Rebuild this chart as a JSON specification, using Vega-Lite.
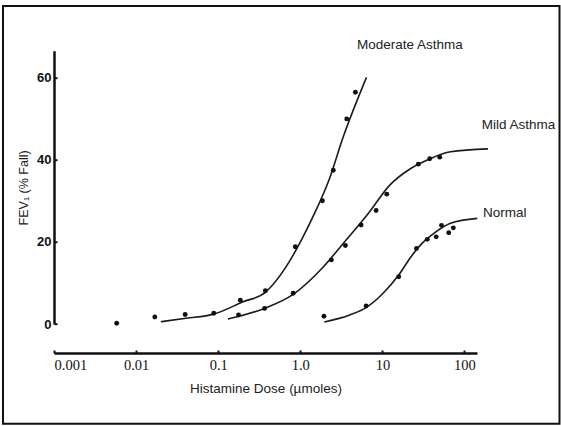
{
  "$schema": "https://vega.github.io/schema/vega-lite/v6.json",
  "width": 423,
  "height": 273.3,
  "autosize": {"type": "none"},
  "padding": {"left": 54, "top": 50.7, "right": 84, "bottom": 102},
  "background": "white",
  "datasets": {
    "points": [
      {"series": "Moderate Asthma", "dose": 0.0058, "fev": 0.2},
      {"series": "Moderate Asthma", "dose": 0.0169, "fev": 1.7},
      {"series": "Moderate Asthma", "dose": 0.0396, "fev": 2.3},
      {"series": "Moderate Asthma", "dose": 0.0883, "fev": 2.6},
      {"series": "Moderate Asthma", "dose": 0.186, "fev": 5.8},
      {"series": "Moderate Asthma", "dose": 0.375, "fev": 8.1},
      {"series": "Moderate Asthma", "dose": 0.869, "fev": 18.8},
      {"series": "Moderate Asthma", "dose": 1.86, "fev": 30.0},
      {"series": "Moderate Asthma", "dose": 2.52, "fev": 37.4},
      {"series": "Moderate Asthma", "dose": 3.68, "fev": 49.9},
      {"series": "Moderate Asthma", "dose": 4.69, "fev": 56.4},
      {"series": "Mild Asthma", "dose": 0.177, "fev": 2.2},
      {"series": "Mild Asthma", "dose": 0.367, "fev": 3.8},
      {"series": "Mild Asthma", "dose": 0.819, "fev": 7.5},
      {"series": "Mild Asthma", "dose": 2.39, "fev": 15.6},
      {"series": "Mild Asthma", "dose": 3.54, "fev": 19.1},
      {"series": "Mild Asthma", "dose": 5.5, "fev": 24.1},
      {"series": "Mild Asthma", "dose": 8.38, "fev": 27.6},
      {"series": "Mild Asthma", "dose": 11.3, "fev": 31.6},
      {"series": "Mild Asthma", "dose": 27.4, "fev": 38.9},
      {"series": "Mild Asthma", "dose": 37.7, "fev": 40.2},
      {"series": "Mild Asthma", "dose": 50, "fev": 40.6},
      {"series": "Normal", "dose": 1.94, "fev": 1.9},
      {"series": "Normal", "dose": 6.33, "fev": 4.4},
      {"series": "Normal", "dose": 15.8, "fev": 11.5},
      {"series": "Normal", "dose": 26, "fev": 18.4},
      {"series": "Normal", "dose": 35.2, "fev": 20.6},
      {"series": "Normal", "dose": 45.2, "fev": 21.2},
      {"series": "Normal", "dose": 52.5, "fev": 24.0},
      {"series": "Normal", "dose": 64.3, "fev": 22.2},
      {"series": "Normal", "dose": 73.1, "fev": 23.4}
    ],
    "curves": [
      {"series": "Moderate Asthma", "dose": 0.02, "fev": 0.56},
      {"series": "Moderate Asthma", "dose": 0.0405, "fev": 1.4},
      {"series": "Moderate Asthma", "dose": 0.0883, "fev": 2.4},
      {"series": "Moderate Asthma", "dose": 0.201, "fev": 5.4},
      {"series": "Moderate Asthma", "dose": 0.375, "fev": 7.7},
      {"series": "Moderate Asthma", "dose": 0.67, "fev": 13.9},
      {"series": "Moderate Asthma", "dose": 1.03, "fev": 20.4},
      {"series": "Moderate Asthma", "dose": 1.49, "fev": 26.9},
      {"series": "Moderate Asthma", "dose": 2.23, "fev": 35.0},
      {"series": "Moderate Asthma", "dose": 3.33, "fev": 45.5},
      {"series": "Moderate Asthma", "dose": 6.4, "fev": 60.0},
      {"series": "Mild Asthma", "dose": 0.131, "fev": 1.2},
      {"series": "Mild Asthma", "dose": 0.367, "fev": 3.8},
      {"series": "Mild Asthma", "dose": 0.819, "fev": 7.2},
      {"series": "Mild Asthma", "dose": 1.83, "fev": 13.5},
      {"series": "Mild Asthma", "dose": 3.33, "fev": 19.6},
      {"series": "Mild Asthma", "dose": 6.73, "fev": 26.9},
      {"series": "Mild Asthma", "dose": 12.3, "fev": 33.8},
      {"series": "Mild Asthma", "dose": 22.4, "fev": 37.9},
      {"series": "Mild Asthma", "dose": 37, "fev": 40.1},
      {"series": "Mild Asthma", "dose": 67.5, "fev": 41.9},
      {"series": "Mild Asthma", "dose": 193, "fev": 42.6},
      {"series": "Normal", "dose": 1.96, "fev": 0.5},
      {"series": "Normal", "dose": 4.0, "fev": 2.2},
      {"series": "Normal", "dose": 6.33, "fev": 4.0},
      {"series": "Normal", "dose": 10.0, "fev": 7.3},
      {"series": "Normal", "dose": 15.8, "fev": 11.9},
      {"series": "Normal", "dose": 22, "fev": 16.2},
      {"series": "Normal", "dose": 30, "fev": 19.5},
      {"series": "Normal", "dose": 40.8, "fev": 21.8},
      {"series": "Normal", "dose": 67.5, "fev": 24.5},
      {"series": "Normal", "dose": 143, "fev": 25.7}
    ],
    "labels": [
      {"label": "Moderate Asthma", "dose": 4.9, "fev": 67.9},
      {"label": "Mild Asthma", "dose": 162, "fev": 48.4},
      {"label": "Normal", "dose": 168, "fev": 27.1}
    ]
  },
  "layer": [
    {
      "data": {"values": [{}]},
      "mark": {"type": "rect", "filled": false, "stroke": "#111111", "strokeWidth": 2, "clip": false},
      "encoding": {
        "x": {"datum": 0.0002392, "type": "quantitative"},
        "x2": {"datum": 1436},
        "y": {"datum": -24.3, "type": "quantitative"},
        "y2": {"datum": 77.37}
      }
    },
    {
      "data": {"name": "curves"},
      "mark": {"type": "line", "interpolate": "monotone", "color": "#1a1a1a", "strokeWidth": 1.6},
      "encoding": {
        "x": {
          "field": "dose", "type": "quantitative",
          "scale": {"type": "log", "domain": [0.001, 142], "nice": false},
          "axis": {
            "title": "Histamine Dose (µmoles)",
            "values": [0.001, 0.01, 0.1, 1, 10, 100],
            "labelExpr": "datum.value < 0.005 ? '0.001' : datum.value < 0.05 ? '0.01' : datum.value < 0.5 ? '0.1' : datum.value < 5 ? '1.0' : datum.value < 50 ? '10' : '100'",
            "offset": 29,
            "tickSize": -3,
            "labelPadding": 8,
            "labelFont": "Liberation Serif",
            "labelFontSize": 14.5,
            "titlePadding": 10
          }
        },
        "y": {
          "field": "fev", "type": "quantitative",
          "scale": {"domain": [0, 66.5], "nice": false, "zero": false},
          "axis": {
            "title": "FEV₁ (% Fall)",
            "values": [0, 20, 40, 60],
            "tickSize": -3,
            "labelPadding": 6,
            "labelFont": "Liberation Sans",
            "labelFontWeight": "bold",
            "labelFontSize": 13,
            "titlePadding": 6,
            "titleFontSize": 12.5
          }
        },
        "detail": {"field": "series"}
      }
    },
    {
      "data": {"name": "points"},
      "mark": {"type": "point", "filled": true, "shape": "circle", "size": 24, "color": "#111111", "opacity": 1},
      "encoding": {
        "x": {"field": "dose", "type": "quantitative"},
        "y": {"field": "fev", "type": "quantitative"}
      }
    },
    {
      "data": {"name": "labels"},
      "mark": {"type": "text", "align": "left", "baseline": "middle", "font": "Liberation Sans", "fontSize": 13.5, "color": "#222222"},
      "encoding": {
        "x": {"field": "dose", "type": "quantitative"},
        "y": {"field": "fev", "type": "quantitative"},
        "text": {"field": "label"}
      }
    }
  ],
  "config": {
    "view": {"stroke": null},
    "axis": {
      "grid": false,
      "domainColor": "#111111",
      "domainWidth": 2.5,
      "tickColor": "#111111",
      "tickWidth": 2,
      "labelColor": "#111111",
      "titleColor": "#222222",
      "titleFont": "Liberation Sans",
      "titleFontWeight": "normal",
      "titleFontSize": 13.5
    }
  }
}
